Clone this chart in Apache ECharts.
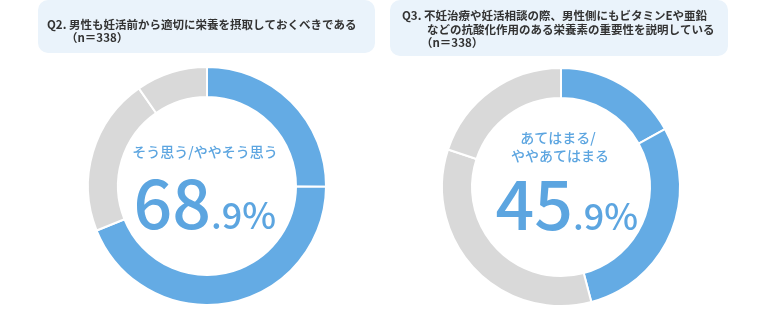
<!DOCTYPE html>
<html>
<head>
    <meta charset="utf-8" />
    <title>栄養 ドーナツ</title>
    <script src="https://cdn.jsdelivr.net/npm/echarts@6/dist/echarts.min.js"></script>
    <style>
        html, body { margin: 0; padding: 0; background: #fff; }
        #main { width: 767px; height: 314px; }
    </style>
</head>
<body>
    <div id="main"></div>
<script>
    // 回答区分
    var q2Names = ['そう思う', 'ややそう思う', 'あまりそう思わない', 'そう思わない'];
    var q2Values = [25.1, 43.8, 21.4, 9.7];
    var q3Names = ['あてはまる', 'ややあてはまる', 'あまりあてはまらない', 'あてはまらない'];
    var q3Values = [16.9, 29.0, 34.2, 19.9];
    var sliceColors = ['#64abe4', '#64abe4', '#d9d9d9', '#d9d9d9'];

    // 見出し・中央テキスト
    var q2Title = ['Q2. 男性も妊活前から適切に栄養を摂取しておくべきである', '（n＝338）'];
    var q3Title = ['Q3. 不妊治療や妊活相談の際、男性側にもビタミンEや亜鉛', 'などの抗酸化作用のある栄養素の重要性を説明している', '（n＝338）'];
    var q2Label = ['そう思う/ややそう思う'];
    var q3Label = ['あてはまる/', 'ややあてはまる'];
    var q2Pct = ['68', '.9%'];
    var q3Pct = ['45', '.9%'];

    var FONT = '"Noto Sans CJK JP", "Noto Sans", sans-serif';
    var TXT = '#333';
    var BLUE = '#5ca5e0';

    function toData(names, values) {
        return names.map(function (n, i) {
            return { name: n, value: values[i], itemStyle: { color: sliceColors[i] } };
        });
    }

    function donut(center, names, values) {
        return {
            type: 'pie',
            center: center,
            radius: [89, 119],
            startAngle: 90,
            clockwise: true,
            silent: true,
            label: { show: false },
            labelLine: { show: false },
            itemStyle: { borderColor: '#fff', borderWidth: 2 },
            data: toData(names, values)
        };
    }

    function txt(x, y, text, size, weight, color, align) {
        return {
            type: 'text', x: x, y: y, silent: true,
            style: {
                text: text, fill: color, font: weight + ' ' + size + 'px ' + FONT,
                align: align || 'left', verticalAlign: 'middle'
            }
        };
    }

    var graphics = [
        { type: 'rect', silent: true, shape: { x: 38, y: 0, width: 337, height: 53, r: 10 }, style: { fill: '#eaf3fb' } },
        { type: 'rect', silent: true, shape: { x: 390, y: 0, width: 338, height: 56, r: 10 }, style: { fill: '#eaf3fb' } },
        txt(47, 25, q2Title[0], 11.5, 'bold', TXT),
        txt(66, 38, q2Title[1], 11.5, 'bold', TXT),
        txt(402, 16, q3Title[0], 11.5, 'bold', TXT),
        txt(427, 30, q3Title[1], 11.5, 'bold', TXT),
        txt(421, 43, q3Title[2], 11.5, 'bold', TXT),
        txt(205, 152, q2Label[0], 14, '500', BLUE, 'center'),
        txt(558, 138, q3Label[0], 14, '500', BLUE, 'center'),
        txt(560, 156, q3Label[1], 14, '500', BLUE, 'center'),
        txt(211, 203, q2Pct[0], 68, '500', BLUE, 'right'),
        txt(211, 215, q2Pct[1], 36, '500', BLUE, 'left'),
        txt(573, 204, q3Pct[0], 68, '500', BLUE, 'right'),
        txt(573, 216, q3Pct[1], 36, '500', BLUE, 'left')
    ];

    var myChart = echarts.init(document.getElementById('main'));
    var option = {
        animation: false,
        graphic: graphics,
        series: [
            donut([207, 186], q2Names, q2Values),
            donut([561, 187], q3Names, q3Values)
        ]
    };
    myChart.setOption(option);
</script>
</body>
</html>
